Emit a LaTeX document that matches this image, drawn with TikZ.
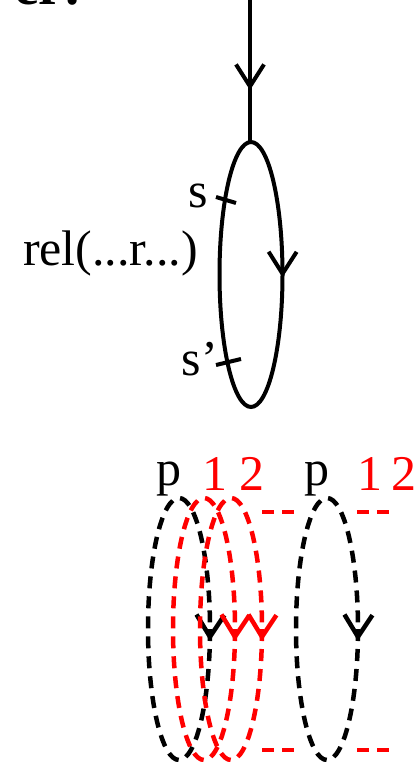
\documentclass[tikz,border=0pt]{standalone}
\usepackage{fontspec}
\setmainfont{Liberation Serif}
\usetikzlibrary{arrows.meta, decorations.markings}

\begin{document}
\begin{tikzpicture}[x=1pt, y=-1pt, line width=4pt]
% Define styles
\tikzstyle{lbl}=[inner sep=0pt, font=\fontsize{50}{54}\selectfont]
\tikzstyle{strand}=[line width=4.5pt, dash pattern=on 12pt off 8pt]
\tikzstyle{redstrand}=[strand, red]
\tikzset{midarrow/.style={postaction={decorate, decoration={markings,
  mark=at position #1 with {\arrow{Straight Barb[length=22pt, width=28pt]}}}}}}
\useasboundingbox (0,0) rectangle (419,762);
% Place nodes
\node[inner sep=0pt, anchor=base west, font=\bfseries\fontsize{56}{60}\selectfont] (title) at (12,5) {er:};
\node[lbl, anchor=base east] (s) at (210,207) {s};
\node[lbl, anchor=base east] (sp) at (220,375) {s’};
\node[lbl, anchor=base west] (rel) at (21,265) {rel(...r...)};
\node[lbl, anchor=base west] (p1) at (154,485) {p};
\node[lbl, anchor=base west, red] (strands1) at (200,490) {1 2};
\node[lbl, anchor=base west] (p2) at (302,485) {p};
\node[lbl, anchor=base west, red] (strands2) at (355,490) {1\hspace{0.2em}2};
\coordinate (entry) at (250,-2);
\coordinate (looptop) at (250,142);
% Draw the relation loop
\draw[midarrow=0.64] (entry) -- (looptop);
\draw[midarrow=3pt] (251,274.5) ellipse [x radius=31.5, y radius=132.5];
\draw (216,197) -- (236,203);
\draw (216,365) -- (241,359);
% Draw the strands
\draw[strand, midarrow=12pt] (179,629) ellipse [x radius=31, y radius=131];
\draw[redstrand, midarrow=12pt] (204,629) ellipse [x radius=31, y radius=131];
\draw[redstrand, midarrow=12pt] (231,629) ellipse [x radius=31, y radius=131];
\draw[strand, midarrow=12pt] (327,629) ellipse [x radius=31, y radius=131];
\coordinate (a1) at (262,512); \coordinate (a2) at (294,512);
\coordinate (b1) at (357,512); \coordinate (b2) at (389,512);
\coordinate (c1) at (262,750); \coordinate (c2) at (294,750);
\coordinate (d1) at (357,750); \coordinate (d2) at (389,750);
\draw[redstrand] (a1) -- (a2);
\draw[redstrand] (b1) -- (b2);
\draw[redstrand] (c1) -- (c2);
\draw[redstrand] (d1) -- (d2);
\end{tikzpicture}
\end{document}
